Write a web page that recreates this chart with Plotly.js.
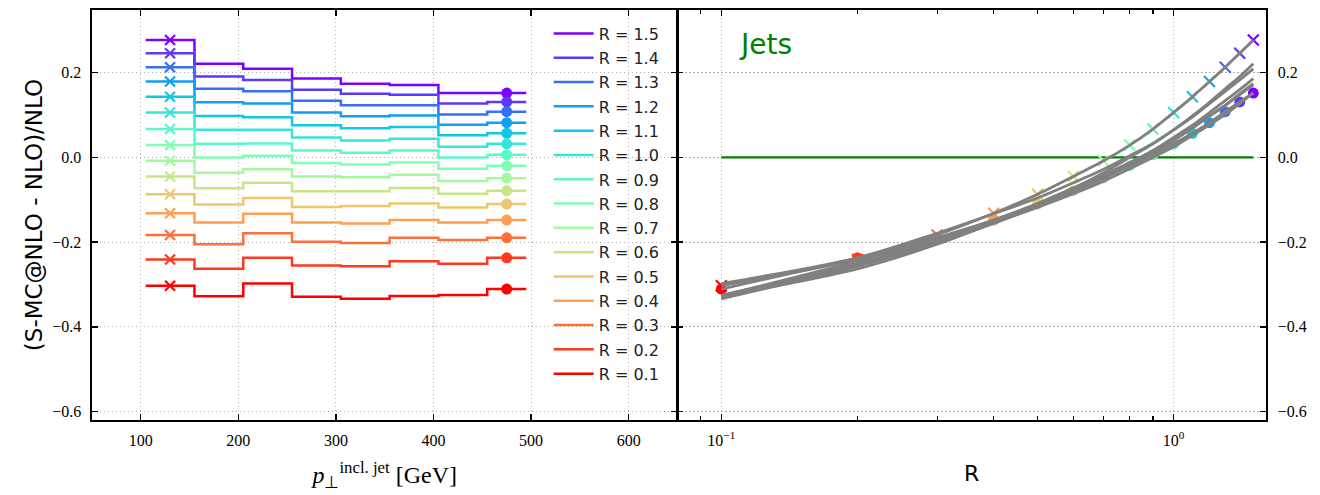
<!DOCTYPE html>
<html><head><meta charset="utf-8">
<script src="https://cdn.plot.ly/plotly-3.0.1.min.js"></script>
<style>html,body{margin:0;padding:0;background:#fff;} #chart{width:1320px;height:495px;}</style>
</head><body><div id="chart"></div>
<script>
// ---------------- data ----------------
const radii = [1.5, 1.4, 1.3, 1.2, 1.1, 1.0, 0.9, 0.8, 0.7, 0.6, 0.5, 0.4, 0.3, 0.2, 0.1];
const radiusLabels = ['R = 1.5','R = 1.4','R = 1.3','R = 1.2','R = 1.1','R = 1.0','R = 0.9','R = 0.8','R = 0.7','R = 0.6','R = 0.5','R = 0.4','R = 0.3','R = 0.2','R = 0.1'];
const ptBinEdges = [105, 155, 205, 255, 305, 355, 405, 455, 495];

const ratioR15 = [0.277, 0.221, 0.209, 0.186, 0.174, 0.171, 0.152, 0.152];
const ratioR14 = [0.246, 0.191, 0.183, 0.160, 0.150, 0.148, 0.127, 0.131];
const ratioR13 = [0.213, 0.162, 0.156, 0.134, 0.123, 0.123, 0.101, 0.108];
const ratioR12 = [0.179, 0.130, 0.127, 0.106, 0.097, 0.099, 0.077, 0.082];
const ratioR11 = [0.143, 0.098, 0.095, 0.076, 0.069, 0.072, 0.052, 0.057];
const ratioR10 = [0.106, 0.065, 0.065, 0.047, 0.040, 0.044, 0.025, 0.032];
const ratioR09 = [0.067, 0.032, 0.033, 0.016, 0.011, 0.016, 0.000, 0.006];
const ratioR08 = [0.029, 0.000, 0.004, -0.013, -0.017, -0.012, -0.027, -0.020];
const ratioR07 = [-0.008, -0.036, -0.028, -0.045, -0.047, -0.041, -0.056, -0.049];
const ratioR06 = [-0.045, -0.073, -0.060, -0.080, -0.080, -0.072, -0.086, -0.079];
const ratioR05 = [-0.087, -0.111, -0.096, -0.117, -0.115, -0.109, -0.118, -0.110];
const ratioR04 = [-0.132, -0.154, -0.133, -0.154, -0.156, -0.148, -0.154, -0.148];
const ratioR03 = [-0.183, -0.205, -0.179, -0.199, -0.202, -0.190, -0.195, -0.190];
const ratioR02 = [-0.241, -0.263, -0.237, -0.255, -0.257, -0.245, -0.251, -0.237];
const ratioR01 = [-0.303, -0.328, -0.298, -0.329, -0.334, -0.327, -0.325, -0.311];

const ratiosByRadius = [ratioR15, ratioR14, ratioR13, ratioR12, ratioR11, ratioR10, ratioR09,
  ratioR08, ratioR07, ratioR06, ratioR05, ratioR04, ratioR03, ratioR02, ratioR01];

const yTickVals = [-0.6, -0.4, -0.2, 0.0, 0.2];
const yTickText = ['\u22120.6', '\u22120.4', '\u22120.2', '0.0', '0.2'];
const rTickVals = [0.1, 1];
const rTickText = ['10<sup>\u22121</sup>', '10<sup>0</sup>'];
const rMinorTicks = [0.09, 0.2, 0.3, 0.4, 0.5, 0.6, 0.7, 0.8, 0.9];

// ---------------- style ----------------
const lineColors = ['#8000ff','#5b39fd','#376ff9','#129ff1','#12c7e6','#37e6d8','#5bf9c7',
  '#80ffb4','#a4f99f','#c8e688','#edc76f','#ff9f54','#ff6f39','#ff391d','#ff0000'];
const gridColor = '#b0b0b0';
const tickFont = {family: 'Liberation Serif, serif', size: 16, color: '#000'};

const traces = [];
const firstCenter = (ptBinEdges[0] + ptBinEdges[1]) / 2;
const n = ptBinEdges.length;
const lastCenter = (ptBinEdges[n - 2] + ptBinEdges[n - 1]) / 2;

// left panel: step lines (legend)
radii.forEach((r, i) => {
  const v = ratiosByRadius[i];
  traces.push({
    type: 'scatter', mode: 'lines', xaxis: 'x', yaxis: 'y',
    x: ptBinEdges, y: v.concat([v[v.length - 1]]),
    line: {shape: 'hv', color: lineColors[i], width: 2.5},
    name: radiusLabels[i], legendgroup: 'g' + i, showlegend: true, hoverinfo: 'skip'
  });
});
// left panel markers
radii.forEach((r, i) => {
  const v = ratiosByRadius[i];
  traces.push({
    type: 'scatter', mode: 'markers', xaxis: 'x', yaxis: 'y',
    x: [firstCenter], y: [v[0]], showlegend: false, hoverinfo: 'skip',
    marker: {symbol: 'x-thin', size: 10, line: {color: lineColors[i], width: 2.2}, color: lineColors[i]}
  });
  traces.push({
    type: 'scatter', mode: 'markers', xaxis: 'x', yaxis: 'y',
    x: [lastCenter], y: [v[v.length - 1]], showlegend: false, hoverinfo: 'skip',
    marker: {symbol: 'circle', size: 11, color: lineColors[i]}
  });
});

// right panel: reference line at zero
traces.push({
  type: 'scatter', mode: 'lines', xaxis: 'x2', yaxis: 'y2',
  x: [Math.min(...radii), Math.max(...radii)], y: [0, 0],
  line: {color: '#008000', width: 2.2}, showlegend: false, hoverinfo: 'skip'
});
// right panel markers
traces.push({
  type: 'scatter', mode: 'markers', xaxis: 'x2', yaxis: 'y2',
  x: radii, y: ratiosByRadius.map(v => v[0]), showlegend: false, hoverinfo: 'skip',
  marker: {symbol: 'x-thin', size: 11, color: lineColors, line: {color: lineColors, width: 2.2}}
});
traces.push({
  type: 'scatter', mode: 'markers', xaxis: 'x2', yaxis: 'y2',
  x: radii, y: ratiosByRadius.map(v => v[v.length - 1]), showlegend: false, hoverinfo: 'skip',
  marker: {symbol: 'circle', size: 11, color: lineColors}
});
// right panel gray curves, one per pT bin
for (let b = 0; b < ptBinEdges.length - 1; b++) {
  traces.push({
    type: 'scatter', mode: 'lines', xaxis: 'x2', yaxis: 'y2',
    x: radii, y: ratiosByRadius.map(v => v[b]),
    line: {color: '#808080', width: 2.8, shape: 'spline', smoothing: 0.8},
    showlegend: false, hoverinfo: 'skip'
  });
}

const baseAxis = {
  showline: true, linecolor: '#000', linewidth: 1.6,
  ticks: 'inside', ticklen: 6, tickwidth: 1.4, tickcolor: '#000',
  mirror: 'ticks', showgrid: true, gridcolor: gridColor, gridwidth: 1, griddash: '1.2px,2.8px',
  zeroline: false, tickfont: tickFont, automargin: false
};

const layout = {
  width: 1320, height: 495,
  margin: {l: 92, r: 54, t: 10, b: 75},
  paper_bgcolor: '#fff', plot_bgcolor: '#fff',
  hovermode: false,
  xaxis: Object.assign({}, baseAxis, {
    domain: [0, 0.4987], range: [50, 650], dtick: 100, tick0: 0, anchor: 'y',
    ticklabelstandoff: 5,
    title: {text: '<i>p</i><sub>\u22a5</sub><sup>incl. jet</sup> [GeV]',
      font: {family: 'Liberation Serif, serif', size: 24, color: '#000'}, standoff: 18}
  }),
  yaxis: Object.assign({}, baseAxis, {
    domain: [0, 1], range: [-0.62, 0.348], tickvals: yTickVals, ticktext: yTickText, anchor: 'x',
    ticklabelstandoff: 6,
    title: {text: '(S-MC@NLO - NLO)/NLO', font: {family: 'DejaVu Sans, sans-serif', size: 23, color: '#000'}, standoff: 3}
  }),
  xaxis2: Object.assign({}, baseAxis, {
    domain: [0.4987, 1], type: 'log', range: [Math.log10(0.08), Math.log10(1.6)],
    tickvals: rTickVals, ticktext: rTickText, anchor: 'y2', ticklabelstandoff: 5,
    minor: {tickvals: rMinorTicks, ticks: 'inside', ticklen: 4, tickwidth: 1.2, tickcolor: '#000', showgrid: false},
    title: {text: 'R', font: {family: 'DejaVu Sans, sans-serif', size: 22, color: '#000'}, standoff: 18}
  }),
  yaxis2: Object.assign({}, baseAxis, {
    domain: [0, 1], range: [-0.62, 0.348], tickvals: yTickVals, ticktext: yTickText,
    anchor: 'x2', side: 'right', ticklabelstandoff: 7
  }),
  showlegend: true,
  legend: {
    x: 0.389, y: 0.984, xanchor: 'left', yanchor: 'top', bgcolor: 'rgba(0,0,0,0)', borderwidth: 0,
    font: {family: 'DejaVu Sans, sans-serif', size: 16, color: '#222'}, itemwidth: 40,
    traceorder: 'grouped', tracegroupgap: 0.5
  },
  annotations: [{
    xref: 'paper', yref: 'paper', x: 0.549, y: 0.96, xanchor: 'left', yanchor: 'top',
    text: 'Jets', showarrow: false, font: {family: 'DejaVu Sans, sans-serif', size: 28, color: '#008000'}
  }]
};

Plotly.newPlot('chart', traces, layout, {staticPlot: true, displayModeBar: false});
</script>
</body></html>
